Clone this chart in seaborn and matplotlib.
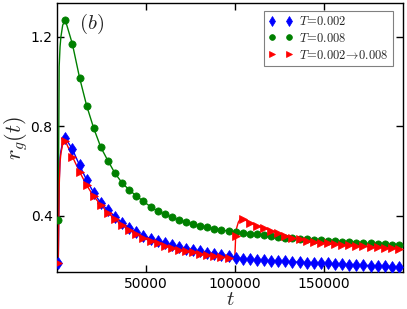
import matplotlib
matplotlib.use('Agg')
import matplotlib.pyplot as plt
import seaborn as sns
import numpy as np

sns.set_style('ticks')
plt.rcParams['font.family'] = ['DejaVu Sans']
plt.rcParams['mathtext.fontset'] = 'cm'

# marker grid (time steps where symbols are drawn)
t_mark = np.arange(500, 196500, 4000)

r_low = [0.191, 0.748, 0.697, 0.626, 0.560, 0.503, 0.457, 0.425, 0.396, 0.368,
         0.347, 0.328, 0.312, 0.299, 0.288, 0.278, 0.269, 0.261, 0.254, 0.248,
         0.242, 0.236, 0.230, 0.225, 0.219, 0.213,
         0.209, 0.206, 0.204, 0.202, 0.200, 0.198, 0.197, 0.195, 0.194, 0.192, 0.191,
         0.189, 0.188, 0.186, 0.185, 0.183, 0.181, 0.180, 0.178, 0.177, 0.175, 0.174, 0.172]

r_high = [0.380, 1.273, 1.166, 1.017, 0.892, 0.791, 0.706, 0.646, 0.590, 0.547,
          0.516, 0.489, 0.465, 0.441, 0.422, 0.407, 0.394, 0.382, 0.373, 0.364,
          0.356, 0.349, 0.343, 0.337, 0.332, 0.327, 0.324, 0.321, 0.318, 0.315,
          0.310, 0.306, 0.303, 0.300, 0.298, 0.295, 0.293, 0.291, 0.289, 0.287,
          0.285, 0.283, 0.281, 0.279, 0.277, 0.275, 0.273, 0.271, 0.269]

r_switch = [0.191, 0.734, 0.664, 0.597, 0.537, 0.487, 0.449, 0.415, 0.384, 0.358,
            0.337, 0.318, 0.301, 0.288, 0.277, 0.267, 0.258, 0.250, 0.243, 0.237,
            0.232, 0.227, 0.222, 0.218, 0.214, 0.310, 0.388, 0.370, 0.356, 0.345,
            0.334, 0.322, 0.312, 0.303, 0.296, 0.289, 0.284, 0.280, 0.277, 0.274,
            0.272, 0.269, 0.267, 0.265, 0.262, 0.260, 0.258, 0.256, 0.254]

# extra points on the lines only (initial rise, and the jump at t=1e5)
t_rise = [1000, 1500, 2000, 3000]
rise_low = [0.55, 0.66, 0.69, 0.73]
rise_high = [1.066, 1.155, 1.20, 1.252]
rise_switch = [0.53, 0.64, 0.68, 0.72]
t_jump = [100000, 101000, 102000, 103000]
jump_switch = [0.212, 0.345, 0.372, 0.385]


def line_data(extra_t, extra_r, r):
    t = np.concatenate([t_mark, extra_t])
    v = np.concatenate([r, extra_r])
    order = np.argsort(t)
    return t[order], v[order]


fig = plt.figure(figsize=(4.07, 3.09), dpi=100)
ax = fig.add_axes([0.141, 0.120, 0.850, 0.870])

series = [
    (r_low, rise_low, [], [], 'blue', 'd', 6.5, r'$T\!=\!0.002$'),
    (r_high, rise_high, [], [], 'green', 'o', 5.2, r'$T\!=\!0.008$'),
    (r_switch, rise_switch, t_jump, jump_switch, 'red', '>', 5.6,
     r'$T\!=\!0.002\!\rightarrow\!0.008$'),
]

for r, rise, tj, rj, col, mk, ms, lab in series:
    tl, vl = line_data(t_rise + tj, rise + rj, r)
    sns.lineplot(x=tl, y=vl, color=col, lw=1.0, sort=False, estimator=None, ax=ax)
    ax.plot(t_mark, r, ls='none', marker=mk, ms=ms, color=col, mec=col,
            mew=0.5, label=lab, zorder=3)

ax.set_xlim(0, 195000)
ax.set_ylim(0.15, 1.35)
ax.set_xticks([50000, 100000, 150000])
ax.set_yticks([0.4, 0.8, 1.2])
ax.tick_params(direction='in', top=True, right=True, length=5, width=1,
               labelsize=10, colors='black')
for sp in ax.spines.values():
    sp.set_linewidth(1)
    sp.set_color('black')

ax.set_xlabel(r'$t$', fontsize=15)
ax.set_ylabel(r'$r_g(t)$', fontsize=16)
ax.xaxis.set_label_coords(0.5, -0.064)
ax.yaxis.set_label_coords(-0.08, 0.5)
ax.text(0.063, 0.905, r'$(b)$', transform=ax.transAxes, fontsize=15)

leg = ax.legend(loc='upper right', numpoints=2, fontsize=9, fancybox=False,
                frameon=True, edgecolor='gray', framealpha=1, borderpad=0.35,
                handletextpad=0.5, handlelength=2.0, labelspacing=0.3,
                markerscale=0.8, bbox_to_anchor=(0.988, 0.995))
leg.get_frame().set_linewidth(0.8)

fig.savefig('out.png', dpi=100)
